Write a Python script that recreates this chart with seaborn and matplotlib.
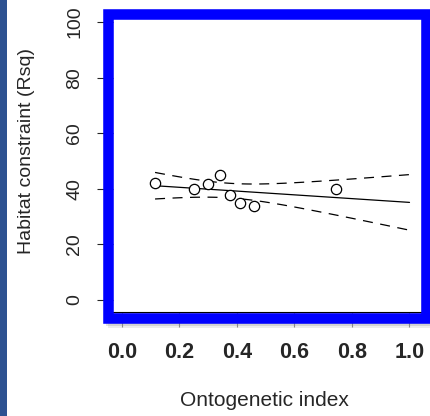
import numpy as np
import pandas as pd
import matplotlib
matplotlib.use("Agg")
import matplotlib.pyplot as plt
from matplotlib.patches import Rectangle
import seaborn as sns

# values
onto_index = [0.115, 0.250, 0.298, 0.340, 0.375, 0.410, 0.458, 0.743]
habitat_rsq = [42.0, 39.8, 41.8, 45.0, 37.9, 34.8, 33.8, 39.8]
x_ticks = [0.0, 0.2, 0.4, 0.6, 0.8, 1.0]
y_ticks = [0, 20, 40, 60, 80, 100]
fit_end = 1.0

sns.set_style("ticks")
plt.rcParams['font.family'] = ['Liberation Sans', 'DejaVu Sans']

df = pd.DataFrame({'onto': onto_index, 'rsq': habitat_rsq})

# linear fit + confidence band (drawn as dashed lines)
x = df['onto'].values
y = df['rsq'].values
n = len(x)
slope, icpt = np.polyfit(x, y, 1)
resid = y - (icpt + slope * x)
s = np.sqrt((resid ** 2).sum() / (n - 2))
sxx = ((x - x.mean()) ** 2).sum()
xs = np.linspace(x.min(), fit_end, 100)
yfit = icpt + slope * xs
half = 1.943 * s * np.sqrt(1 / n + (xs - x.mean()) ** 2 / sxx)
fit = pd.DataFrame({'x': xs, 'fit': yfit, 'lo': yfit - half, 'hi': yfit + half})

W, H = 430, 416
fig = plt.figure(figsize=(W / 100, H / 100), dpi=100)
fig.patch.set_facecolor('white')
ax = fig.add_axes([113 / W, 1 - 312 / H, 309 / W, 293 / H])

sns.lineplot(data=fit, x='x', y='fit', color='black', lw=0.9, ax=ax)
for col in ['lo', 'hi']:
    sns.lineplot(data=fit, x='x', y=col, color='black', lw=0.9,
                 dashes=False, ax=ax).lines[-1].set_dashes((8, 6))
sns.scatterplot(data=df, x='onto', y='rsq', marker='o', s=55,
                facecolor='white', edgecolor='black', linewidth=0.9,
                zorder=3, ax=ax)

ax.set_xlim(-0.0313, 1.0435)
ax.set_ylim(-4.32, 101.1)
ax.set_xticks(x_ticks)
ax.set_xticklabels([f'{v:.1f}' for v in x_ticks], fontsize=15.5, fontweight='bold')
ax.set_yticks(y_ticks)
ax.set_yticklabels([str(v) for v in y_ticks], fontsize=14, rotation=90, va='center')
ax.tick_params(axis='y', length=11.5, width=0.8, pad=10)
ax.tick_params(axis='x', length=11, width=0.8, pad=10.5, color='#888888')
for sp in ['left', 'top']:
    ax.spines[sp].set_visible(False)
for sp in ['right', 'bottom']:
    ax.spines[sp].set_linewidth(0.8)
    ax.spines[sp].set_color('black')

ax.set_xlabel('Ontogenetic index', fontsize=15)
ax.xaxis.set_label_coords(0.489, -0.268)
ax.set_ylabel('Habitat constraint (Rsq)', fontsize=14)
ax.yaxis.set_label_coords(-0.252, 0.549)

# soft shadow behind the frame, then the thick blue frame
for off, a in [(5, 0.12), (3, 0.18)]:
    fig.patches.append(Rectangle((103 / W + off / W, 1 - 323 / H - off / H),
                                 330 / W, 315 / H, transform=fig.transFigure,
                                 facecolor='#666666', edgecolor='none',
                                 alpha=a, zorder=-2))
fig.patches.append(Rectangle((108 / W, 1 - 317.5 / H), 318 / W, 304 / H,
                             transform=fig.transFigure, fill=False,
                             edgecolor='#0000FF', lw=7.6, zorder=5))
# dark strip at the left edge
fig.patches.append(Rectangle((0, 0), 7 / W, 1, transform=fig.transFigure,
                             facecolor='#2D5291', edgecolor='none', zorder=5))

fig.savefig('out.png', dpi=100)
